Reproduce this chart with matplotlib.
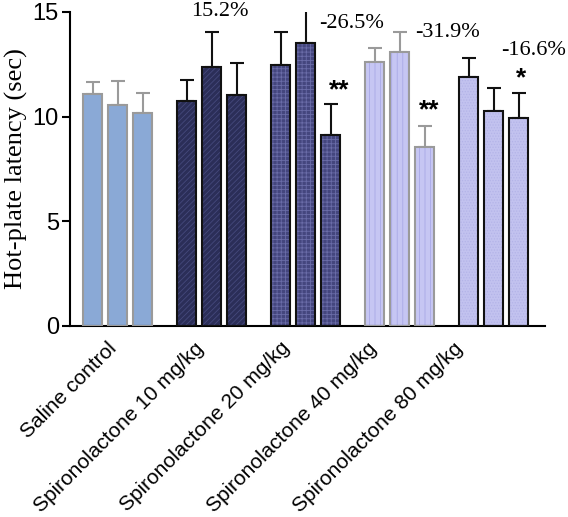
import matplotlib
matplotlib.use("Agg")
import matplotlib.pyplot as plt
import numpy as np

categories = ["Saline control", "Spironolactone 10 mg/kg", "Spironolactone 20 mg/kg",
              "Spironolactone 40 mg/kg", "Spironolactone 80 mg/kg"]
means = [
    [11.07, 10.56, 10.18],
    [10.77, 12.39, 11.05],
    [12.45, 13.54, 9.14],
    [12.61, 13.11, 8.57],
    [11.91, 10.26, 9.94],
]
errs = [
    [0.57, 1.16, 0.95],
    [0.98, 1.67, 1.53],
    [1.60, 1.56, 1.48],
    [0.69, 0.95, 1.00],
    [0.91, 1.10, 1.18],
]
pct_labels = ["", "15.2%", "-26.5%", "-31.9%", "-16.6%"]
sig_labels = ["", "", "**", "**", "*"]

face = ["#8aa9d6", "#2b2e58", "#44467e", "#c6c6f3", "#c2c2ef"]
hatch_col = ["#8aa9d6", "#45497c", "#6a6ca8", "#a9a9e6", "#b4b4e8"]
hatches = [None, "//////", "++++", "|||", "......"]
edge = ["#9a9a9a", "#111111", "#111111", "#9a9a9a", "#111111"]

fig = plt.figure(figsize=(5.68, 5.17), dpi=100)
ax = fig.add_axes([70/568, 1-326/517, (545-70)/568, (326-12)/517])

gstep = 3.76
w = 0.78
plt.rcParams['hatch.linewidth'] = 0.6
for g, cat in enumerate(categories):
    xs = g * gstep + np.array([-1, 0, 1])
    ax.bar(xs, means[g], width=w, color=face[g], edgecolor=hatch_col[g],
           hatch=hatches[g], linewidth=0, zorder=2)
    ax.bar(xs, means[g], width=w, fill=False, edgecolor=edge[g],
           linewidth=1.5, zorder=3)
    ax.errorbar(xs, means[g], yerr=[np.zeros(3), errs[g]], fmt='none',
                ecolor=edge[g], elinewidth=1.5, capsize=5, capthick=1.5, zorder=1)

# annotations
pct_pos = [None, (0.35, 15.0), (1.85, 14.47), (1.9, 14.0), (1.6, 13.14)]
for g in range(5):
    if pct_labels[g]:
        px, py = pct_pos[g]
        ax.text(g * gstep + px, py, pct_labels[g], ha='center', va='center',
                family='Liberation Serif', fontsize=16, clip_on=False)
sig_pos = [None, None, (1.35, 11.25), (1.2, 10.3), (1.1, 11.85)]
for g in range(5):
    if sig_labels[g]:
        px, py = sig_pos[g]
        ax.text(g * gstep + px, py, sig_labels[g], ha='center', va='center',
                family='Liberation Sans', fontsize=19, fontweight='bold')

ax.set_xlim(-1.9, 17.1)
ax.set_ylim(0, 15)
ax.set_yticks([0, 5, 10, 15])
ax.set_xticks([g * 3.46 - 0.4 for g in range(5)])
ax.set_xticklabels(categories, rotation=45, ha='right', rotation_mode='anchor',
                   family='Liberation Sans', fontsize=15)
for lab in ax.get_yticklabels():
    lab.set_family('Liberation Sans')
    lab.set_fontsize(17)
ax.set_ylabel("Hot-plate latency (sec)", family='Liberation Serif', fontsize=19,
              labelpad=3)
ax.spines['top'].set_visible(False)
ax.spines['right'].set_visible(False)
ax.spines['left'].set_linewidth(1.5)
ax.spines['bottom'].set_linewidth(1.5)
ax.tick_params(axis='y', width=1.5, length=6, pad=2)
ax.tick_params(axis='x', width=0, length=0, pad=9)

fig.savefig("out.png", dpi=100)
